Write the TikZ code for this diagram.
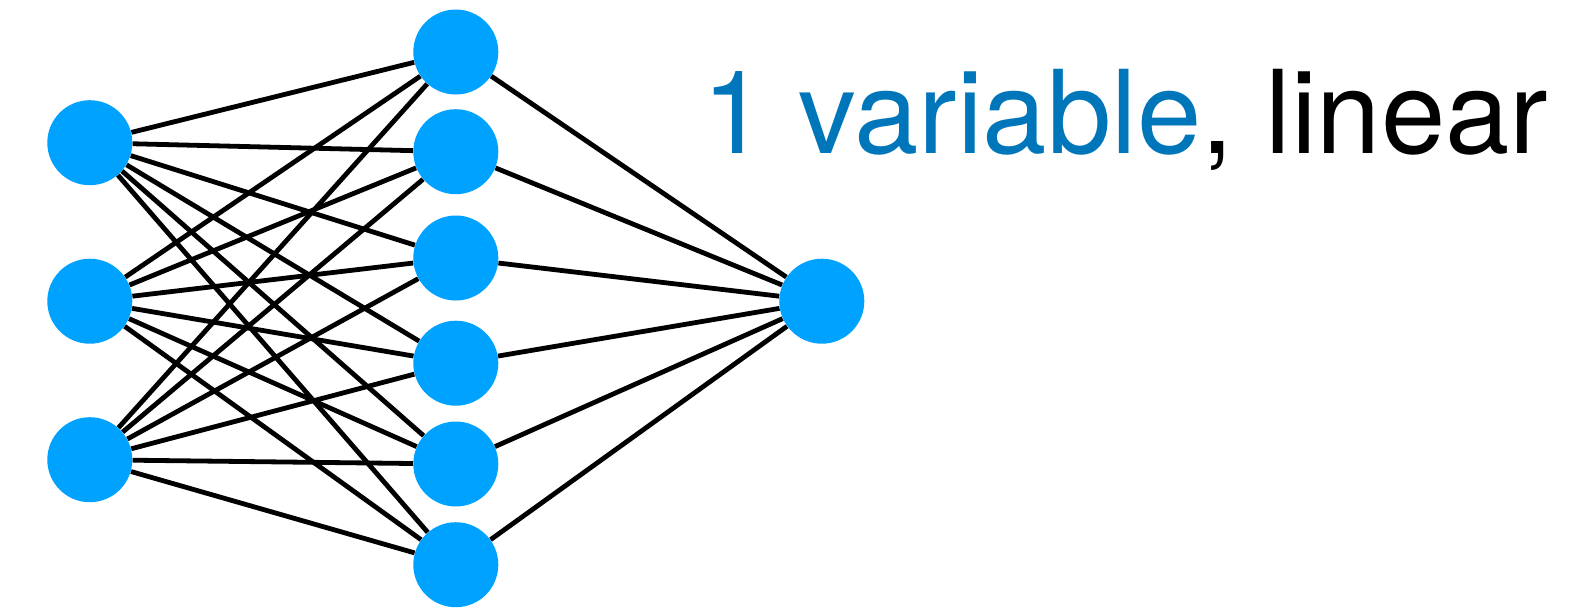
\documentclass[tikz,border=0pt]{standalone}
\usepackage{fontspec}
\setmainfont{TeX Gyre Heros}
\definecolor{nodeblue}{RGB}{0,162,255}
\definecolor{textblue}{RGB}{0,118,186}
\begin{document}
\begin{tikzpicture}[x=0.5pt,y=-0.5pt,
  neuron/.style={circle,fill=nodeblue,minimum size=42.5pt,inner sep=0pt},
  link/.style={draw=black,line width=2.4pt}]
\useasboundingbox (0,0) rectangle (1593,612);
% input layer
\node[neuron] (i1) at (89.8,142.7) {};
\node[neuron] (i2) at (89.8,301.2) {};
\node[neuron] (i3) at (89.8,459.7) {};
% hidden layer
\node[neuron] (h1) at (455.8,52) {};
\node[neuron] (h2) at (455.8,151.7) {};
\node[neuron] (h3) at (455.8,258) {};
\node[neuron] (h4) at (455.8,363.2) {};
\node[neuron] (h5) at (455.8,464) {};
\node[neuron] (h6) at (455.8,564.7) {};
% output
\node[neuron] (o) at (821.8,301.2) {};
% connections
\foreach \i in {1,2,3}
  \foreach \h in {1,...,6}
    \draw[link] (i\i) -- (h\h);
\foreach \h in {1,...,6}
  \draw[link] (h\h) -- (o);
% caption
\node[anchor=base west,inner sep=0pt,font=\fontsize{57.8}{60}\selectfont] (cap) at (702,153.3)
  {\textcolor{textblue}{1 variable}, linear};
\end{tikzpicture}
\end{document}
